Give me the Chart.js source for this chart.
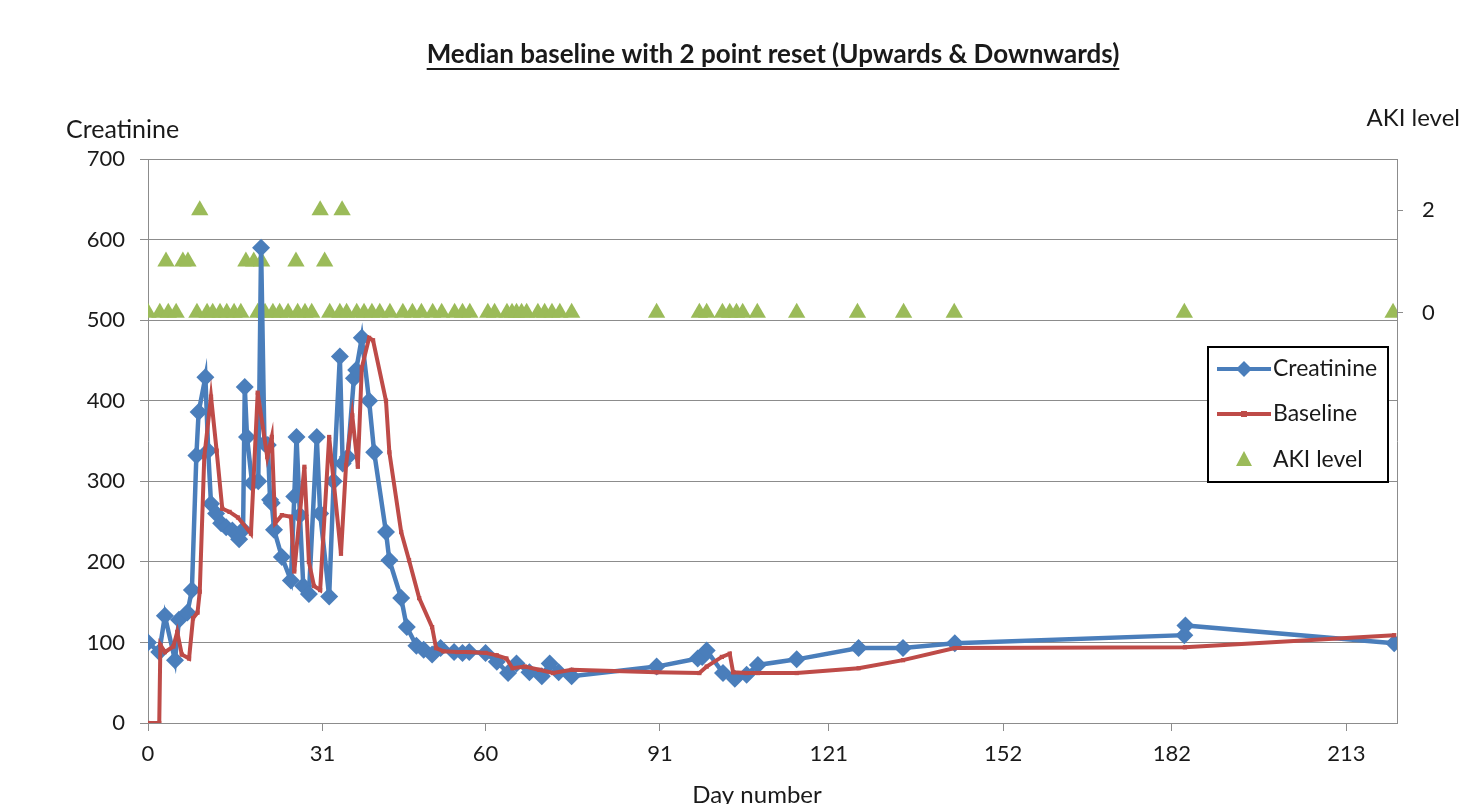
<!DOCTYPE html>
<html>
<head>
<meta charset="utf-8">
<title>Median baseline with 2 point reset</title>
<script src="https://cdn.jsdelivr.net/npm/chart.js@4.4.1/dist/chart.umd.min.js"></script>
<style>
  html, body { margin: 0; padding: 0; background: #fff; }
  #wrap { width: 1464px; height: 804px; }
</style>
</head>
<body>
<div id="wrap"><canvas id="myChart" width="1464" height="804"></canvas></div>
<script>
// creatinine measurements (day number, value)
const creatDays = [0, 2.0, 3.0, 4.8, 5.5, 7.0, 7.8, 8.6, 9.0, 10.2, 10.7, 11.2, 12.1, 13.0, 13.9, 15.0, 16.2, 16.9, 17.2, 17.6,
  18.5, 19.6, 20.1, 20.7, 21.3, 21.7, 22.0, 22.4, 23.8, 25.4, 26.0, 26.4, 27.0, 27.6, 28.6, 30.0, 30.6, 32.2, 33.0, 34.1,
  34.6, 35.5, 36.6, 37.0, 38.0, 39.3, 40.2, 42.3, 42.9, 45.0, 46.0, 47.7, 49.0, 50.5, 52.0, 54.4, 55.9, 57.1, 60.0, 62.0,
  64.0, 65.5, 67.8, 70.0, 71.4, 73.0, 75.3, 90.4, 97.7, 98.5, 99.3, 102.2, 104.3, 106.4, 108.4, 115.3, 126.3, 134.2, 143.4,
  184.2, 184.4, 221.5];
const creatVals = [100, 88, 133, 78, 128, 137, 165, 332, 386, 429, 338, 272, 260, 248, 243, 239, 228, 240, 417, 355,
  298, 300, 590, 347, 345, 277, 273, 240, 206, 177, 281, 355, 258, 170, 160, 355, 260, 157, 300, 455,
  322, 330, 428, 438, 478, 400, 336, 237, 202, 155, 119, 96, 91, 85, 93, 88, 87, 88, 87, 76,
  62, 74, 63, 58, 74, 63, 58, 70, 80, 82, 90, 62, 55, 60, 72, 79, 93, 93, 99,
  109, 121, 99];

// median baseline
const baseDays = [0, 2.0, 2.2, 3.0, 4.5, 5.2, 6.0, 7.3, 8.0, 8.8, 9.2, 10.0, 11.2, 12.2, 13.2, 14.5, 16.0, 18.3, 19.5, 21.2,
  22.0, 22.6, 23.8, 25.4, 26.0, 27.8, 28.6, 29.5, 30.6, 32.2, 34.3, 35.2, 36.3, 37.3, 38.0, 39.3, 40.0, 42.3, 42.9, 45.0,
  46.4, 48.2, 50.5, 51.2, 52.5, 55.0, 57.0, 60.0, 62.0, 63.7, 64.8, 67.0, 69.5, 72.0, 75.3, 90.4, 98.0, 99.3, 102.0, 103.4,
  104.0, 106.4, 108.4, 115.3, 126.3, 134.2, 143.4, 184.3, 221.5];
const baseVals = [0, 0, 97, 88, 95, 113, 85, 80, 130, 137, 163, 330, 405, 338, 266, 262, 255, 235, 410, 330,
  355, 248, 258, 256, 188, 318, 200, 170, 165, 355, 210, 320, 382, 318, 441, 478, 475, 400, 336, 237,
  202, 155, 119, 93, 89, 88, 88, 87, 84, 80, 68, 70, 66, 62, 66, 63, 62, 70, 82, 86,
  63, 62, 62, 62, 68, 78, 93, 94, 109];

// AKI level (right axis)
const akiDays = [0, 2.1, 3.2, 3.6, 5.0, 6.2, 7.1, 8.7, 9.2, 10.5, 11.5, 12.8, 14.0, 15.3, 16.5, 17.4, 18.8, 19.5, 20.2, 20.8,
  22.2, 23.4, 24.9, 26.3, 26.6, 27.9, 29.1, 30.6, 31.4, 32.3, 34.1, 34.5, 35.3, 37.1, 38.4, 39.8, 41.2, 43.0, 45.3, 47.0,
  48.6, 50.6, 52.2, 54.5, 55.9, 57.2, 60.4, 61.6, 63.8, 64.7, 65.5, 66.4, 67.3, 69.3, 70.5, 71.8, 73.2, 75.3, 90.4, 98.0,
  99.3, 102.1, 103.4, 104.6, 105.7, 108.3, 115.3, 126.1, 134.3, 143.3, 184.2, 221.3];
const akiVals = [0, 0, 1, 0, 0, 1, 1, 0, 2, 0, 0, 0, 0, 0, 0, 1, 1, 0, 1, 0,
  0, 0, 0, 1, 0, 0, 0, 2, 1, 0, 0, 2, 0, 0, 0, 0, 0, 0, 0, 0,
  0, 0, 0, 0, 0, 0, 0, 0, 0, 0, 0, 0, 0, 0, 0, 0, 0, 0, 0, 0,
  0, 0, 0, 0, 0, 0, 0, 0, 0, 0, 0, 0];

const dayTicks = [0, 31, 60, 91, 121, 152, 182, 213];
const akiTicks = [0, 2];

const titleText = 'Median baseline with 2 point reset (Upwards & Downwards)';
const blue = '#4A7EBB';
const red = '#BE4B48';
const green = '#9BBB59';
const gridColor = '#8c8c8c';
const textColor = '#1a1a1a';

function toPoints(xs, ys) {
  return xs.map((x, i) => ({ x: x, y: ys[i] }));
}

// title, axis names and the boxed legend
const textPlugin = {
  id: 'textPlugin',
  afterDraw(chart) {
    const ctx = chart.ctx;
    ctx.save();
    ctx.fillStyle = textColor;
    ctx.textBaseline = 'middle';

    ctx.font = 'bold 26px Lato';
    ctx.textAlign = 'center';
    ctx.fillText(titleText, 773, 55);
    const tw = ctx.measureText(titleText).width;
    ctx.fillRect(773 - tw / 2, 68, tw, 2);

    ctx.font = '25px Lato';
    ctx.textAlign = 'left';
    ctx.fillText('Creatinine', 66, 130);
    ctx.textAlign = 'right';
    ctx.font = '24px Lato';
    ctx.fillText('AKI level', 1460, 118);
    ctx.textAlign = 'center';
    ctx.fillText('Day number', 757, 795);

    // legend box
    ctx.fillStyle = '#fff';
    ctx.fillRect(1208, 347, 180, 135);
    ctx.strokeStyle = '#000';
    ctx.lineWidth = 2;
    ctx.strokeRect(1208, 347, 180, 135);

    ctx.lineWidth = 4;
    ctx.strokeStyle = blue;
    ctx.beginPath(); ctx.moveTo(1217, 369); ctx.lineTo(1271, 369); ctx.stroke();
    ctx.fillStyle = blue;
    ctx.beginPath();
    ctx.moveTo(1244, 361); ctx.lineTo(1252, 369); ctx.lineTo(1244, 377); ctx.lineTo(1236, 369);
    ctx.closePath(); ctx.fill();

    ctx.strokeStyle = red;
    ctx.beginPath(); ctx.moveTo(1217, 414); ctx.lineTo(1271, 414); ctx.stroke();
    ctx.fillStyle = red;
    ctx.fillRect(1241, 411, 6, 6);

    ctx.fillStyle = green;
    ctx.beginPath();
    ctx.moveTo(1244, 451); ctx.lineTo(1252, 466); ctx.lineTo(1236, 466);
    ctx.closePath(); ctx.fill();

    ctx.fillStyle = textColor;
    ctx.font = '23px Lato';
    ctx.textAlign = 'left';
    ctx.fillText('Creatinine', 1273, 369);
    ctx.fillText('Baseline', 1273, 414);
    ctx.fillText('AKI level', 1273, 460);
    ctx.restore();
  }
};

Chart.defaults.font.family = 'Lato';
Chart.defaults.color = textColor;

const config = {
  type: 'scatter',
  data: {
    datasets: [
      {
        label: 'Baseline',
        data: toPoints(baseDays, baseVals),
        showLine: true,
        borderColor: red,
        backgroundColor: red,
        borderWidth: 4,
        pointStyle: 'rect',
        pointRadius: 3,
        pointBorderWidth: 0,
        tension: 0,
        yAxisID: 'y'
      },
      {
        label: 'Creatinine',
        data: toPoints(creatDays, creatVals),
        showLine: true,
        borderColor: blue,
        backgroundColor: blue,
        borderWidth: 4.5,
        pointStyle: 'rectRot',
        pointRadius: 9,
        pointBorderWidth: 0,
        tension: 0,
        yAxisID: 'y'
      },
      {
        label: 'AKI level',
        data: toPoints(akiDays, akiVals),
        showLine: false,
        backgroundColor: green,
        borderColor: green,
        pointStyle: 'triangle',
        pointRadius: 10,
        pointBorderWidth: 0,
        yAxisID: 'y2'
      }
    ]
  },
  options: {
    responsive: false,
    animation: false,
    devicePixelRatio: 1,
    layout: { padding: { top: 159, left: 0, right: 0, bottom: 0 } },
    plugins: {
      legend: { display: false },
      title: { display: false },
      tooltip: { enabled: false }
    },
    scales: {
      x: {
        type: 'linear',
        min: 0,
        max: 222,
        afterBuildTicks: s => { s.ticks = dayTicks.map(v => ({ value: v })); },
        afterFit: s => { s.height = 81; },
        grid: { drawOnChartArea: false, drawTicks: true, tickLength: 8, color: gridColor },
        border: { color: gridColor, width: 1 },
        ticks: { font: { size: 22 }, padding: 10, maxRotation: 0, autoSkip: false }
      },
      y: {
        position: 'left',
        min: 0,
        max: 700,
        afterFit: s => { s.width = 148; },
        grid: { color: gridColor, tickLength: 8 },
        border: { color: gridColor, width: 1 },
        ticks: { stepSize: 100, font: { size: 22 }, padding: 15 }
      },
      y2: {
        position: 'right',
        min: -8,
        max: 3,
        afterBuildTicks: s => { s.ticks = akiTicks.map(v => ({ value: v })); },
        afterFit: s => { s.width = 67; },
        grid: { drawOnChartArea: false, tickLength: 6, color: gridColor },
        border: { color: gridColor, width: 1 },
        ticks: { font: { size: 22 }, padding: 19 }
      }
    }
  },
  plugins: [textPlugin]
};

const myChart = new Chart(document.getElementById('myChart'), config);
</script>
</body>
</html>
